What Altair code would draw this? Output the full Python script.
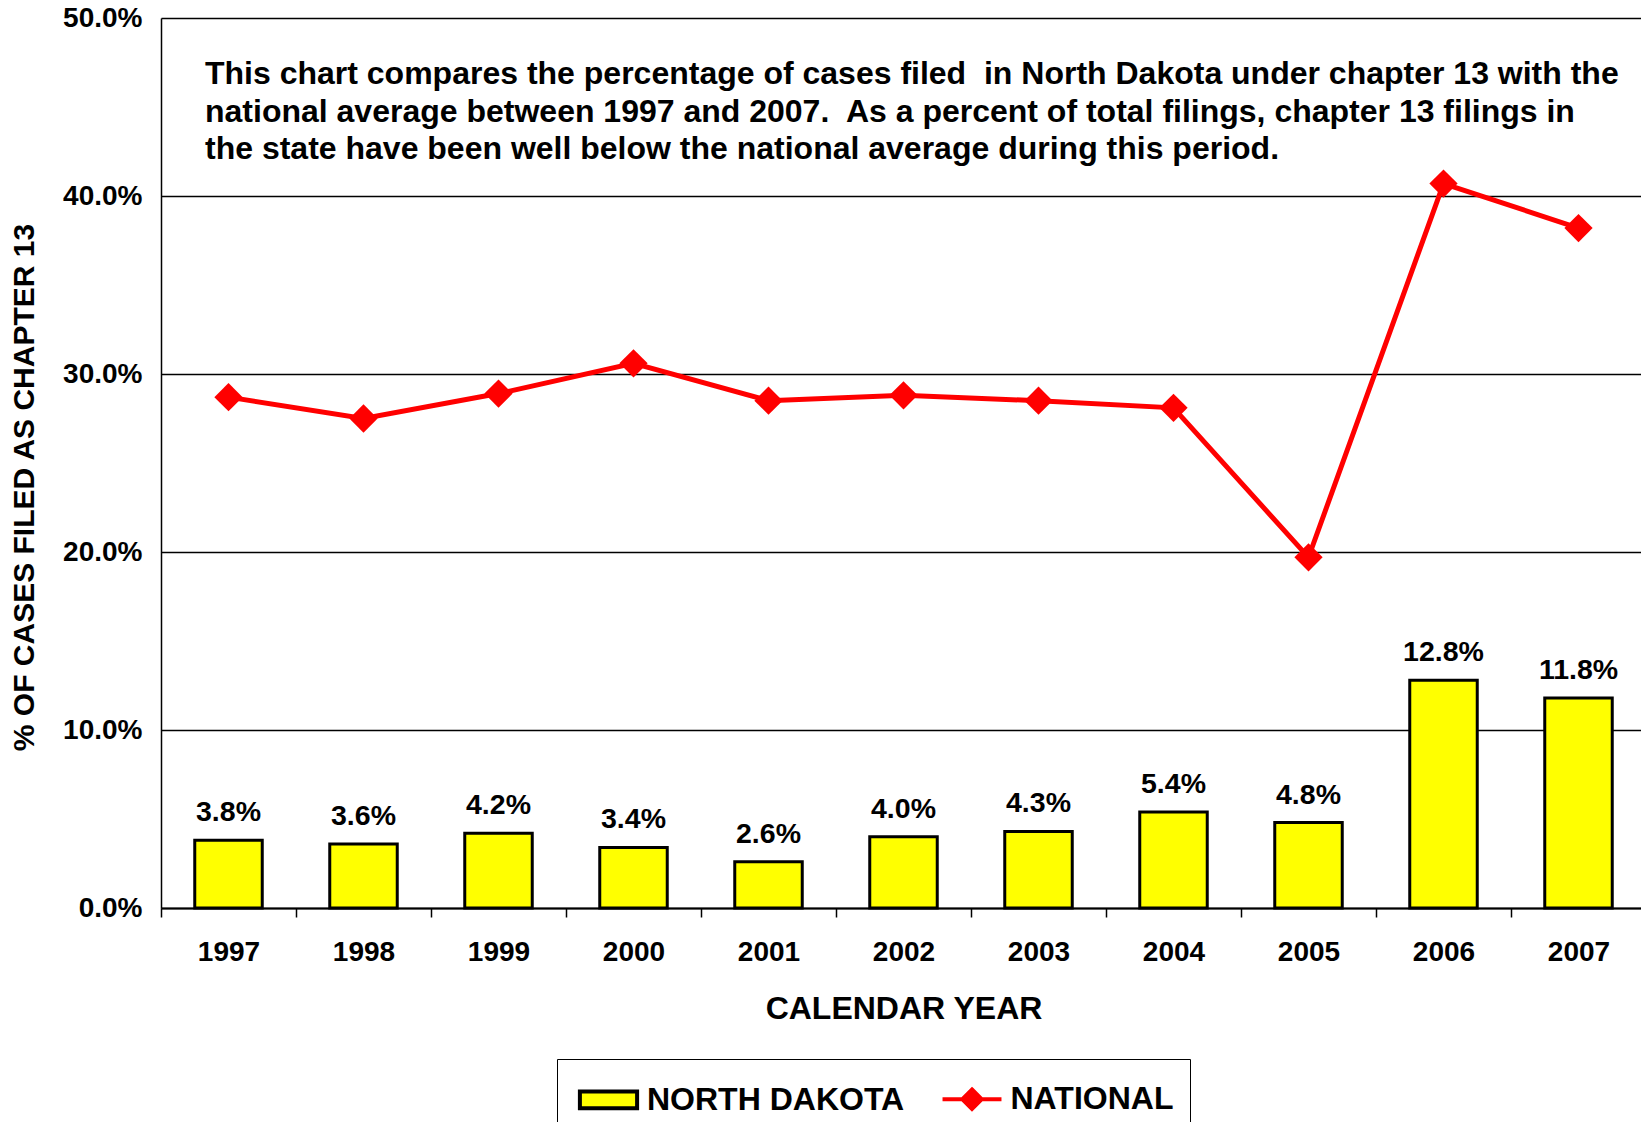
import altair as alt
import pandas as pd

# ---------------- data ----------------
years = ["1997", "1998", "1999", "2000", "2001", "2002", "2003", "2004", "2005", "2006", "2007"]
north_dakota = [3.8, 3.6, 4.2, 3.4, 2.6, 4.0, 4.3, 5.4, 4.8, 12.8, 11.8]
national = [28.7, 27.5, 28.9, 30.6, 28.5, 28.8, 28.5, 28.1, 19.7, 40.7, 38.2]
series_names = ["NORTH DAKOTA", "NATIONAL"]
series_colors = ["#ffff00", "#ff0000"]
y_ticks = [0, 10, 20, 30, 40, 50]
note_lines = [
    "This chart compares the percentage of cases filed\u00a0 in North Dakota under chapter 13 with the",
    "national average between 1997 and 2007.\u00a0 As a percent of total filings, chapter 13 filings in",
    "the state have been well below the national average during this period.",
]

df = pd.DataFrame({"year": years, "nd": north_dakota, "nat": national})
df["series"] = series_names[0]

FONT = "Liberation Sans"
W, H = 1485, 890
STEP = W / len(years)

x_enc = alt.X(
    "year:O",
    title="CALENDAR YEAR",
    scale=alt.Scale(paddingInner=0.5, paddingOuter=0.25),
    axis=alt.Axis(
        labelAngle=0, labelFont=FONT, labelFontSize=28, labelFontWeight="bold",
        labelColor="black", labelPadding=21,
        tickOffset=-STEP / 2, labelOffset=STEP / 2, tickSize=9,
        tickColor="black", tickWidth=1.5,
        domainColor="black", domainWidth=2,
        titleFont=FONT, titleFontSize=32, titleFontWeight="bold", titleColor="black",
        titleY=100, titleBaseline="middle",
    ),
)

y_axis = alt.Axis(
    values=y_ticks,
    labelExpr="format(datum.value, '.1f') + '%'",
    labelFont=FONT, labelFontSize=28, labelFontWeight="bold", labelColor="black",
    labelPadding=19, ticks=False,
    domainColor="black", domainWidth=1.5,
    gridColor="black", gridWidth=1.5, gridOpacity=1,
    title="% OF CASES FILED AS CHAPTER 13",
    titleFont=FONT, titleFontSize=30, titleFontWeight="bold", titleColor="black",
    titleX=-137, titleY=469, titleAngle=270, titleBaseline="middle", titleAlign="center",
)
y_scale = alt.Scale(domain=[0, 50])

legend = alt.Legend(
    title=None, orient="none", legendX=396, legendY=1041, direction="horizontal",
    strokeColor="black", padding=16, columnPadding=29.5,
    labelFont=FONT, labelFontSize=32, labelFontWeight="bold", labelColor="black",
    labelLimit=500, labelOffset=14.5, symbolOffset=11.5, symbolSize=1936, symbolStrokeWidth=4,
    symbolType={"expr": "datum.value === 'NATIONAL' ? 'M-1.34,0H1.34M0,-0.44L0.44,0L0,0.44L-0.44,0Z' : 'M-1.3,-0.38H1.3V0.38H-1.3Z'"},
    symbolStrokeColor={"expr": "datum.value === 'NATIONAL' ? '#ff0000' : '#000000'"},
)

base = alt.Chart(df)

bars = base.mark_bar().encode(
    x=x_enc,
    y=alt.Y("nd:Q", scale=y_scale, axis=y_axis),
    color=alt.Color("series:N", scale=alt.Scale(domain=series_names, range=series_colors), legend=legend),
)

outline = base.mark_bar(filled=False, stroke="black", strokeWidth=3).encode(
    x=x_enc,
    y=alt.Y("nd:Q", scale=y_scale, axis=y_axis),
)

labels = base.transform_calculate(
    lab="format(datum.nd, '.1f') + '%'"
).mark_text(
    baseline="alphabetic", dy=-19, font=FONT, fontSize=28.5, fontWeight="bold", color="black"
).encode(
    x=x_enc,
    y=alt.Y("nd:Q", scale=y_scale, axis=y_axis),
    text="lab:N",
)

line = base.mark_line(color="#ff0000", strokeWidth=5).encode(
    x=x_enc,
    y=alt.Y("nat:Q", scale=y_scale, axis=y_axis),
)

points = base.mark_point(shape="diamond", filled=True, size=800, color="#ff0000", opacity=1).encode(
    x=x_enc,
    y=alt.Y("nat:Q", scale=y_scale, axis=y_axis),
)

note = alt.Chart(pd.DataFrame({"k": [0]})).mark_text(
    align="left", baseline="alphabetic", font=FONT, fontSize=32, fontWeight="bold",
    lineHeight=37.5, color="black",
).encode(
    x=alt.value(44), y=alt.value(66), text=alt.value(note_lines)
)

chart = alt.layer(bars, outline, labels, line, points, note).properties(
    width=W, height=H,
    autosize=alt.AutoSizeParams(type="none"),
    padding={"left": 153, "top": 10, "right": -5, "bottom": 214},
    background="white",
).configure_view(strokeWidth=0)

chart.save("out.html", embed_options={"renderer": "svg", "actions": False})
